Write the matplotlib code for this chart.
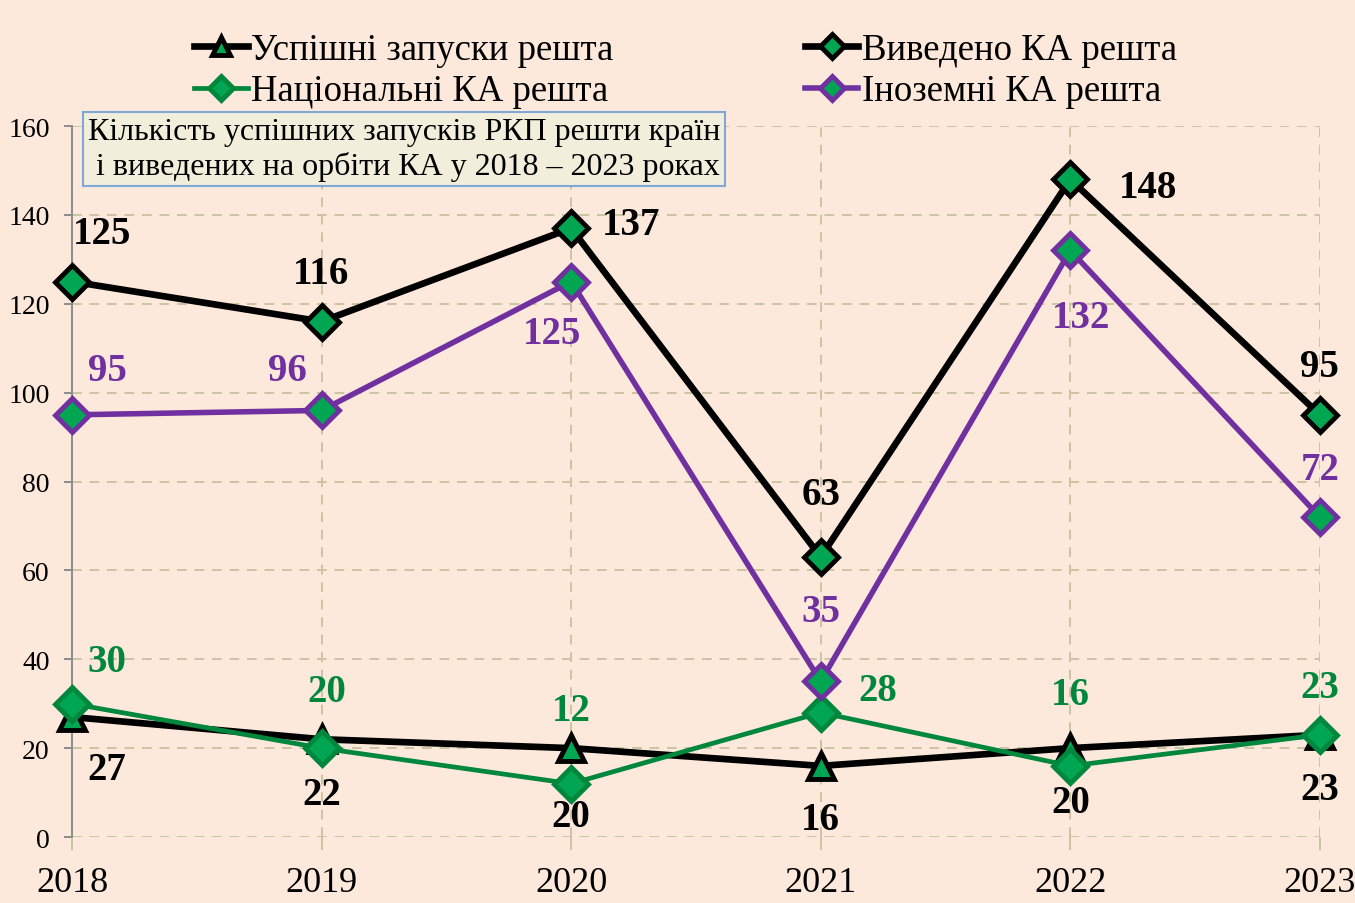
import numpy as np
import matplotlib.pyplot as plt

plt.rcParams['font.family'] = ['Liberation Serif', 'DejaVu Serif']

# дані
roky = [2018, 2019, 2020, 2021, 2022, 2023]
zapusky = [27, 22, 20, 16, 20, 23]          # Успішні запуски решта
vyvedeno = [125, 116, 137, 63, 148, 95]     # Виведено КА решта
natsionalni = [30, 20, 12, 28, 16, 23]      # Національні КА решта
inozemni = [95, 96, 125, 35, 132, 72]       # Іноземні КА решта
y_ticks = [0, 20, 40, 60, 80, 100, 120, 140, 160]

tlo = '#FDE9DB'
zelenyi = '#00A651'
temno_zelenyi = '#00873E'
fiolet = '#7030A0'

fig = plt.figure(figsize=(13.55, 9.04), dpi=100, facecolor=tlo)
ax = fig.add_axes([0.0531, 0.073, 0.9210, 0.7865])
ax.set_facecolor(tlo)

# лінії
ax.plot(roky, zapusky, color='black', lw=4.8, marker='^', ms=19,
        mfc=zelenyi, mec='black', mew=3.5, label='Успішні запуски решта', zorder=3, clip_on=False)
ax.plot(roky, natsionalni, color=temno_zelenyi, lw=3.4, marker='D', ms=17,
        mfc=zelenyi, mec=temno_zelenyi, mew=3.5, label='Національні КА решта', zorder=4, clip_on=False)
ax.plot(roky, vyvedeno, color='black', lw=4.8, marker='D', ms=17,
        mfc=zelenyi, mec='black', mew=3.5, label='Виведено КА решта', zorder=5, clip_on=False)
ax.plot(roky, inozemni, color=fiolet, lw=4.0, marker='D', ms=17,
        mfc=zelenyi, mec=fiolet, mew=3.5, label='Іноземні КА решта', zorder=5, clip_on=False)

# підписи значень (зсув у пікселях)
zsuv_vyv = [(30, 48), (0, 48), (60, 4), (0, 63), (78, -8), (0, 48)]
zsuv_ino = [(35, 44), (-34, 40), (-19, -52), (0, 70), (11, -67), (0, 48)]
zsuv_nat = [(35, 42), (5, 57), (0, 73), (57, 22), (0, 71), (0, 47)]
zsuv_zap = [(35, -52), (0, -55), (0, -68), (0, -54), (0, -54), (0, -55)]

def pidpysy(vals, zsuv, kolir):
    for x, v, (dx, dy) in zip(roky, vals, zsuv):
        ax.annotate(str(v), (x, v), xytext=(dx, dy), textcoords='offset pixels',
                    ha='center', va='center', fontsize=28, fontweight='bold',
                    color=kolir, zorder=6, annotation_clip=False)

pidpysy(vyvedeno, zsuv_vyv, 'black')
pidpysy(inozemni, zsuv_ino, fiolet)
pidpysy(natsionalni, zsuv_nat, temno_zelenyi)
pidpysy(zapusky, zsuv_zap, 'black')

# осі
ax.set_xlim(2018, 2023)
ax.set_ylim(0, 160)
ax.set_yticks(y_ticks)
ax.set_xticks(roky)
ax.grid(True, color='#CBC5A2', ls=(0, (5, 4)), lw=1.4)
ax.set_axisbelow(True)
for s in ['top', 'right', 'bottom']:
    ax.spines[s].set_visible(False)
ax.spines['left'].set_color('#8C8C8C')
ax.spines['left'].set_linewidth(1.4)
ax.tick_params(axis='y', labelsize=20, color='#8C8C8C', length=6, width=1.4, pad=10)
ax.tick_params(axis='x', labelsize=26, color='#CBC5A2', length=9, width=1.4, pad=12)

# заголовок у рамці
ax.text(0.0125, 1.013,
        'Кількість успішних запусків РКП решти країн\n і виведених на орбіти КА у 2018 – 2023 роках',
        transform=ax.transAxes, ha='left', va='top', fontsize=23, linespacing=1.22,
        bbox=dict(boxstyle='square,pad=0.15', fc='#F1EEDC', ec='#7FA7D7', lw=1.5), zorder=7)

# легенда
fig.legend(loc='upper center', bbox_to_anchor=(0.506, 1.0), ncol=2, frameon=False,
           fontsize=26.5, handlelength=1.45, handletextpad=0.1, columnspacing=5.2,
           labelspacing=0.2, markerscale=0.7)

fig.savefig('out.png', dpi=100, facecolor=tlo)
